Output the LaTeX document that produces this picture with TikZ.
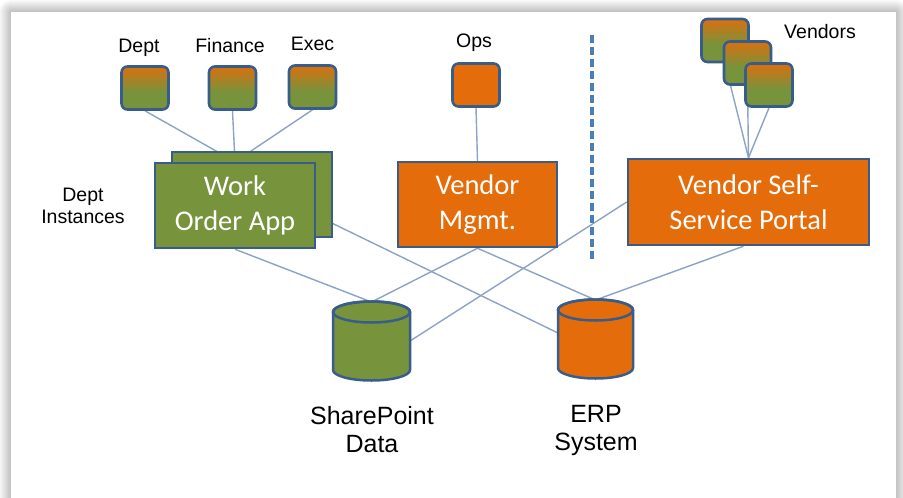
\documentclass[tikz,border=0pt]{standalone}
\usepackage{fontspec}
\setmainfont{Liberation Sans}
\newfontfamily\boxfont{Carlito}
\usetikzlibrary{calc}

\definecolor{appgreen}{RGB}{119,147,60}
\definecolor{apporange}{RGB}{228,108,10}
\definecolor{edgeblue}{RGB}{56,93,138}
\definecolor{linkblue}{RGB}{140,163,196}
\definecolor{dashblue}{RGB}{74,126,187}

% tiles fade from orange at the top into green
\pgfdeclareverticalshading{tileshade}{100bp}{color(0bp)=(appgreen); color(45bp)=(appgreen); color(78bp)=(apporange); color(100bp)=(apporange)}

\pgfdeclarelayer{card}
\pgfdeclarelayer{links}
\pgfsetlayers{card,links,main}

\begin{document}
\begin{tikzpicture}[x=1pt,y=-1pt,
  tilebase/.style={draw=edgeblue, line width=2.6pt, rounded corners=6pt,
    minimum width=47pt, minimum height=43pt, inner sep=0pt},
  tile/.style={tilebase, shading=tileshade},
  optile/.style={tilebase, fill=apporange},
  appbox/.style={draw=edgeblue, line width=2.5pt, minimum width=160pt,
    minimum height=85pt, inner sep=0pt, text=white, align=center,
    font=\boxfont\fontsize{28.5}{35}\selectfont},
  hitbox/.style={minimum width=76pt, minimum height=78pt, inner sep=0pt, outer sep=0pt},
  lbl/.style={font=\fontsize{19.5}{22}\selectfont, align=center, inner sep=0pt},
  dblbl/.style={font=\fontsize{25}{28}\selectfont, align=center, inner sep=0pt},
  link/.style={draw=linkblue, line width=1.4pt},
  divider/.style={draw=dashblue, line width=4pt, dash pattern=on 8pt off 4pt},
  cyl/.style={draw=edgeblue, line width=2.5pt}
]
\useasboundingbox (0,0) rectangle (903,498);

% card with a soft drop shadow
\begin{pgfonlayer}{card}
  \fill[white] (0,0) rectangle (903,498);
  \foreach \i in {1,...,12}{
    \fill[black, opacity=0.02, rounded corners=\i pt] (11-\i,12-\i) rectangle (896+\i,520);
  }
  \fill[white] (11,12) rectangle (896,520);
\end{pgfonlayer}

% user tiles
\node[tile] (dept) at (145,88) {};
\node[tile] (fin)  at (232.5,88) {};
\node[tile] (exec) at (312.5,87) {};
\node[optile] (ops) at (476,85) {};
\node[tile] (ven1) at (725,40.5) {};
\node[tile] (ven2) at (747.5,63) {};
\node[tile] (ven3) at (769,85) {};

\node[lbl, anchor=base] at (139,52) {Dept};
\node[lbl, anchor=base] at (230,52) {Finance};
\node[lbl, anchor=base] at (312.5,50) {Exec};
\node[lbl, anchor=base] at (474,47) {Ops};
\node[lbl, anchor=base] at (820,38) {Vendors};

% applications
\node[appbox, fill=appgreen] (woaback) at (252,194.5) {};
\node[appbox, fill=appgreen] (woa) at (235,205.5) {Work\\Order App};
\node[appbox, fill=apporange, minimum width=159pt] (vm) at (477.5,204.5) {Vendor\\Mgmt.};
\node[appbox, fill=apporange, minimum width=241pt, minimum height=86pt] (portal) at (748.5,202) {Vendor Self-\\Service Portal};

\node[lbl] at (83,206) {Dept\\Instances};

% data stores
\node[hitbox, minimum width=77pt] (sp) at (371.5,341) {};
\node[hitbox, minimum width=75pt] (erp) at (595.5,339) {};

\filldraw[cyl, fill=appgreen] (333,312) -- (333,370)
  arc[start angle=180, end angle=0, x radius=38.5, y radius=10.5]
  -- (410,312) arc[start angle=0, end angle=-180, x radius=38.5, y radius=10.5] -- cycle;
\draw[cyl] (371.5,312) ellipse[x radius=38.5, y radius=10.5];

\filldraw[cyl, fill=apporange] (558,310) -- (558,368)
  arc[start angle=180, end angle=0, x radius=37.5, y radius=10.5]
  -- (633,310) arc[start angle=0, end angle=-180, x radius=37.5, y radius=10.5] -- cycle;
\draw[cyl] (595.5,310) ellipse[x radius=37.5, y radius=10.5];

\node[dblbl] at (372,430) {SharePoint\\Data};
\node[dblbl] at (596,430) {ERP\\System};

% internal / external boundary
\coordinate (divtop) at (592,35);
\coordinate (divbot) at (592,260);
\draw[divider] (divtop) -- (divbot);

% connectors
\begin{pgfonlayer}{links}
  \draw[link] (dept.south) -- (woa.north);
  \draw[link] (fin.south) -- (woa.north);
  \draw[link] (exec.south) -- (woa.north);
  \draw[link] (ops.south) -- (vm.north);
  \draw[link] (ven1.south) -- (portal.north);
  \draw[link] (ven2.south) -- (portal.north);
  \draw[link] (ven3.south) -- (portal.north);
  \draw[link] (woa.south) -- (sp.north);
  \draw[link] ($(woa.east)+(0,10)$) -- ($(erp.west)+(0,-6)$);
  \draw[link] (vm.south) -- (sp.north);
  \draw[link] (vm.south) -- (erp.north);
  \draw[link] (portal.west) -- (sp.east);
  \draw[link] ($(portal.south)+(-5,0)$) -- (erp.north);
\end{pgfonlayer}
\end{tikzpicture}
\end{document}
